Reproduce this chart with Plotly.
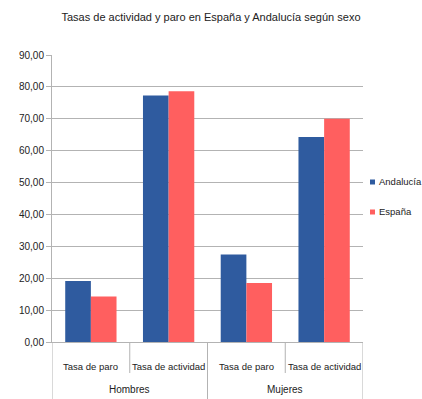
import plotly.graph_objects as go

sexo = ["Hombres", "Mujeres"]
tasas = ["Tasa de paro", "Tasa de actividad", "Tasa de paro", "Tasa de actividad"]
andalucia = [19.1, 77.3, 27.4, 64.3]
espana = [14.3, 78.6, 18.5, 70.0]
series_names = ["Andalucía", "España"]
series_colors = ["#2f5b9f", "#ff5f5f"]
yticks = [0, 10, 20, 30, 40, 50, 60, 70, 80, 90]
yticklabels = ["0,00", "10,00", "20,00", "30,00", "40,00", "50,00", "60,00", "70,00", "80,00", "90,00"]

FONT = "Liberation Sans, Arial, sans-serif"
TXT = "#222222"
GRID = "#b3b3b3"

W, H = 422, 399
ML, MR, MT, MB = 52, 59, 55, 57
PH = H - MT - MB
PW = W - ML - MR

xpos = list(range(len(tasas)))

fig = go.Figure()
for name, vals, col in zip(series_names, [andalucia, espana], series_colors):
    fig.add_trace(go.Bar(x=xpos, y=vals, name=name,
                         marker=dict(color=col, line=dict(width=0))))

annotations = []
shapes = []
# inner category labels
for i, t in enumerate(tasas):
    annotations.append(dict(x=i, y=-(366 - 342) / PH, xref="x", yref="paper",
                            text=t, showarrow=False, xanchor="center", yanchor="middle",
                            font=dict(family=FONT, size=9.5, color=TXT)))
# outer category labels
for j, s in enumerate(sexo):
    annotations.append(dict(x=2 * j + 0.5, y=-(389 - 342) / PH, xref="x", yref="paper",
                            text=s, showarrow=False, xanchor="center", yanchor="middle",
                            font=dict(family=FONT, size=10, color=TXT)))
# dividers
for i in range(len(tasas) + 1):
    xb = i - 0.5
    outer = (i % 2 == 0)
    shapes.append(dict(type="line", xref="x", yref="paper", x0=xb, x1=xb,
                       y0=0, y1=-(57 / PH if outer else 31 / PH),
                       line=dict(color=GRID, width=1)))

# legend (manual, compact)
leg_y = [182, 212]
for name, col, yy in zip(series_names, series_colors, leg_y):
    yp = 1 - (yy - MT) / PH
    xp0 = (370 - ML) / PW
    xp1 = (375 - ML) / PW
    hh = 2.5 / PH
    shapes.append(dict(type="rect", xref="paper", yref="paper", x0=xp0, x1=xp1,
                       y0=yp - hh, y1=yp + hh, fillcolor=col, line=dict(width=0)))
    annotations.append(dict(x=(377 - ML) / PW, y=yp, xref="paper", yref="paper",
                            text=name, showarrow=False, xanchor="left", yanchor="middle",
                            font=dict(family=FONT, size=9.5, color=TXT)))

fig.update_layout(
    width=W, height=H,
    margin=dict(l=ML, r=MR, t=MT, b=MB, autoexpand=False),
    paper_bgcolor="white", plot_bgcolor="white",
    font=dict(family=FONT, size=10, color=TXT),
    title=dict(text="Tasas de actividad y paro en España y Andalucía según sexo",
               x=0.5, xanchor="center", y=1 - 17 / H, yanchor="middle",
               font=dict(family=FONT, size=11, color=TXT)),
    barmode="group", bargap=0.34, bargroupgap=0,
    showlegend=False,
    annotations=annotations,
    shapes=shapes,
    xaxis=dict(range=[-0.5, len(tasas) - 0.5], showticklabels=False, ticks="",
               showline=True, linecolor=GRID, linewidth=1, showgrid=False,
               zeroline=False, fixedrange=True),
    yaxis=dict(range=[0, 90], tickvals=yticks, ticktext=yticklabels,
               showgrid=True, gridcolor=GRID, gridwidth=1,
               showline=True, linecolor=GRID, ticks="outside", ticklen=5,
               tickcolor=GRID, zeroline=False, fixedrange=True,
               tickfont=dict(family=FONT, size=10, color=TXT)),
)

fig.write_html("out.html",
               config={"displayModeBar": False, "staticPlot": True},
               post_script="document.body.style.margin='0';document.body.style.padding='0';")
